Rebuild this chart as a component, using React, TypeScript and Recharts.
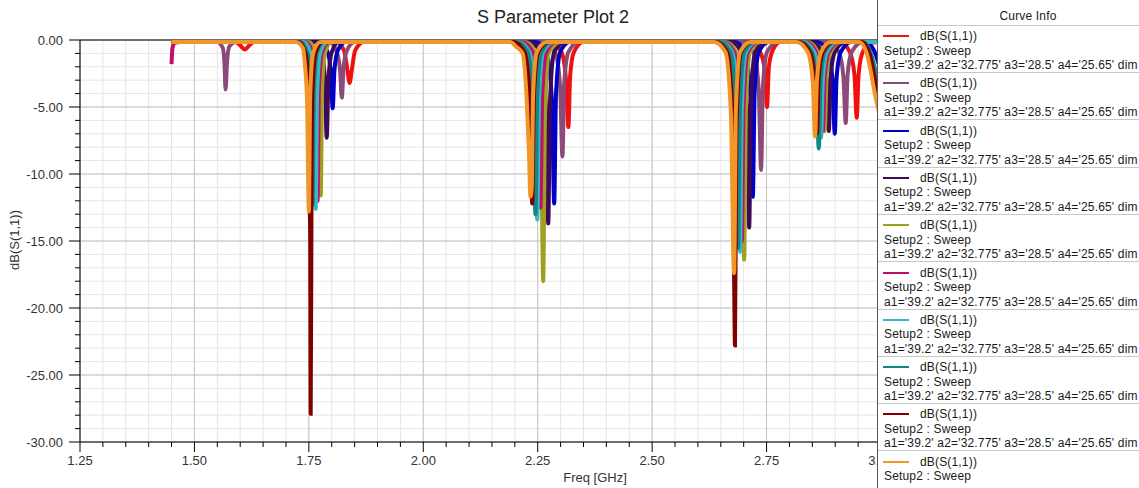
import { CartesianGrid, Line, LineChart, XAxis, YAxis } from 'recharts';

type Pt = [number, number];

const FONT = '"Liberation Sans", Arial, Helvetica, sans-serif';

// frequency axis: minor tick every 50 MHz, labelled every 250 MHz
const freqTicks = [
  1.25, 1.3, 1.35, 1.4, 1.45, 1.5, 1.55, 1.6, 1.65, 1.7, 1.75, 1.8, 1.85, 1.9, 1.95, 2.0, 2.05, 2.1,
  2.15, 2.2, 2.25, 2.3, 2.35, 2.4, 2.45, 2.5, 2.55, 2.6, 2.65, 2.7, 2.75, 2.8, 2.85, 2.9, 2.95, 3.0,
];
const freqLabels = [1.25, 1.5, 1.75, 2.0, 2.25, 2.5, 2.75, 3.0];

// dB axis: minor tick every 1 dB, labelled every 5 dB
const dbTicks = [
  -30, -29, -28, -27, -26, -25, -24, -23, -22, -21, -20, -19, -18, -17, -16, -15, -14, -13, -12,
  -11, -10, -9, -8, -7, -6, -5, -4, -3, -2, -1, 0,
];
const dbLabels = [-30, -25, -20, -15, -10, -5, 0];

const curveColors = [
  '#f01010', '#8c4a78', '#0000c8', '#3c0a5a', '#a0a020',
  '#c0106a', '#38b8c4', '#108888', '#800000', '#f3962a',
];
const curveName = 'dB(S(1,1))';
const setupText = 'Setup2 : Sweep';
const sweepText = "a1='39.2' a2='32.775' a3='28.5' a4='25.65' dim";

// [freq GHz, dB] for each sweep variation
const s11Red: Pt[] = [
  [1.45, -0.15], [1.59, -0.15], [1.6, -0.4], [1.61, -0.7], [1.62, -0.4], [1.63, -0.15],
  [1.81, -0.15], [1.827, -0.8], [1.834, -2.2], [1.839, -3.2], [1.844, -2.2], [1.851, -0.8], [1.87, -0.15],
  [2.28, -0.15], [2.302, -0.9], [2.312, -3.0], [2.317, -6.5], [2.321, -2.6], [2.329, -0.9], [2.35, -0.15],
  [2.715, -0.15], [2.736, -0.9], [2.746, -2.2], [2.751, -5.0], [2.755, -2.0], [2.763, -0.8], [2.78, -0.15],
  [2.91, -0.15], [2.932, -0.9], [2.942, -2.6], [2.947, -5.8], [2.951, -2.6], [2.96, -0.9], [2.98, -0.2], [3.0, -0.15],
];
const s11Mauve: Pt[] = [
  [1.45, -0.15], [1.55, -0.15], [1.562, -0.6], [1.566, -2.0], [1.568, -3.7], [1.571, -1.8], [1.576, -0.5], [1.59, -0.15],
  [1.795, -0.15], [1.811, -0.9], [1.818, -2.2], [1.822, -4.3], [1.826, -2.0], [1.833, -0.8], [1.85, -0.15],
  [2.265, -0.15], [2.288, -0.9], [2.299, -3.5], [2.304, -8.7], [2.308, -3.2], [2.317, -0.9], [2.34, -0.15],
  [2.7, -0.15], [2.722, -0.9], [2.733, -3.8], [2.738, -9.7], [2.742, -3.5], [2.751, -0.9], [2.775, -0.15],
  [2.885, -0.15], [2.908, -0.9], [2.918, -2.8], [2.923, -6.2], [2.927, -2.6], [2.936, -0.9], [2.96, -0.15], [3.0, -0.15],
];
const s11Blue: Pt[] = [
  [1.45, -0.15],
  [1.775, -0.15], [1.791, -0.9], [1.798, -2.4], [1.802, -5.1], [1.806, -2.2], [1.813, -0.8], [1.83, -0.15],
  [2.245, -0.15], [2.269, -0.9], [2.281, -4.5], [2.286, -12.2], [2.29, -4.0], [2.299, -0.9], [2.32, -0.15],
  [2.68, -0.15], [2.703, -0.9], [2.715, -4.3], [2.72, -11.7], [2.724, -3.8], [2.733, -0.9], [2.755, -0.15],
  [2.86, -0.15], [2.884, -0.9], [2.894, -3.0], [2.899, -7.0], [2.903, -2.8], [2.912, -0.9], [2.935, -0.15],
  [2.965, -0.15], [2.985, -0.8], [3.0, -2.4],
];
const s11Purple: Pt[] = [
  [1.45, -0.15],
  [1.762, -0.15], [1.778, -0.9], [1.785, -3.0], [1.789, -7.3], [1.793, -2.8], [1.8, -0.9], [1.815, -0.15],
  [2.232, -0.15], [2.256, -0.9], [2.268, -5.0], [2.273, -13.7], [2.277, -4.5], [2.286, -0.9], [2.31, -0.15],
  [2.672, -0.15], [2.695, -0.9], [2.707, -5.0], [2.712, -14.0], [2.716, -4.5], [2.725, -0.9], [2.748, -0.15],
  [2.848, -0.15], [2.871, -0.9], [2.881, -3.0], [2.886, -6.8], [2.89, -2.8], [2.899, -0.9], [2.922, -0.15], [3.0, -0.15],
];
const s11Olive: Pt[] = [
  [1.45, -0.15],
  [1.75, -0.15], [1.765, -1.0], [1.772, -4.0], [1.776, -11.6], [1.779, -3.6], [1.786, -0.9], [1.8, -0.15],
  [2.222, -0.15], [2.245, -0.9], [2.257, -6.0], [2.26, -14.5], [2.262, -18.0], [2.266, -5.5], [2.275, -0.9], [2.3, -0.15],
  [2.66, -0.15], [2.684, -0.9], [2.696, -5.5], [2.701, -16.4], [2.705, -5.0], [2.714, -0.9], [2.737, -0.15],
  [2.84, -0.15], [2.862, -0.9], [2.872, -3.0], [2.877, -6.8], [2.881, -2.8], [2.89, -0.9], [2.913, -0.15], [3.0, -0.15],
];
const s11Magenta: Pt[] = [
  [1.45, -1.8], [1.452, -0.6], [1.457, -0.2], [1.47, -0.15],
  [1.743, -0.15], [1.758, -1.0], [1.765, -4.2], [1.769, -12.0], [1.772, -3.8], [1.779, -0.9], [1.795, -0.15],
  [2.215, -0.15], [2.239, -0.9], [2.251, -4.5], [2.256, -12.5], [2.26, -4.0], [2.269, -0.9], [2.29, -0.15],
  [2.655, -0.15], [2.679, -0.9], [2.691, -5.2], [2.696, -15.0], [2.7, -4.7], [2.709, -0.9], [2.732, -0.15],
  [2.835, -0.15], [2.858, -0.9], [2.868, -3.0], [2.873, -6.8], [2.877, -2.8], [2.886, -0.9], [2.91, -0.15], [3.0, -0.15],
];
const s11Cyan: Pt[] = [
  [1.45, -0.15],
  [1.739, -0.15], [1.754, -1.0], [1.761, -4.3], [1.765, -12.6], [1.768, -4.0], [1.775, -0.9], [1.79, -0.15],
  [2.208, -0.15], [2.232, -0.9], [2.244, -4.8], [2.249, -13.4], [2.253, -4.3], [2.262, -0.9], [2.285, -0.15],
  [2.651, -0.15], [2.675, -0.9], [2.687, -5.5], [2.692, -15.8], [2.696, -5.0], [2.705, -0.9], [2.728, -0.15],
  [2.83, -0.15], [2.854, -0.9], [2.864, -3.2], [2.869, -7.3], [2.873, -3.0], [2.882, -0.9], [2.905, -0.15], [3.0, -0.15],
];
const s11Teal: Pt[] = [
  [1.45, -0.15],
  [1.732, -0.15], [1.747, -1.0], [1.754, -4.2], [1.758, -12.3], [1.761, -3.9], [1.768, -0.9], [1.783, -0.15],
  [2.204, -0.15], [2.228, -0.9], [2.24, -4.6], [2.245, -13.0], [2.249, -4.2], [2.258, -0.9], [2.28, -0.15],
  [2.647, -0.15], [2.671, -0.9], [2.683, -5.4], [2.688, -15.5], [2.692, -4.9], [2.701, -0.9], [2.724, -0.15],
  [2.825, -0.15], [2.849, -0.9], [2.859, -3.4], [2.864, -8.1], [2.868, -3.2], [2.877, -0.9], [2.9, -0.15],
  [2.96, -0.15], [2.978, -1.0], [2.99, -2.6], [3.0, -4.0],
];
const s11Maroon: Pt[] = [
  [1.45, -0.15],
  [1.728, -0.15], [1.743, -1.0], [1.75, -4.5], [1.752, -12.5], [1.753, -15.0], [1.754, -27.9], [1.756, -10.0],
  [1.758, -3.8], [1.765, -0.9], [1.78, -0.15],
  [2.197, -0.15], [2.221, -0.9], [2.233, -4.4], [2.238, -12.2], [2.242, -4.0], [2.251, -0.9], [2.275, -0.15],
  [2.64, -0.15], [2.664, -0.9], [2.676, -6.0], [2.679, -17.5], [2.681, -22.8], [2.684, -7.0], [2.694, -0.9], [2.717, -0.15],
  [2.821, -0.15], [2.845, -0.9], [2.855, -3.0], [2.86, -7.0], [2.864, -2.8], [2.873, -0.9], [2.895, -0.15],
  [2.958, -0.15], [2.975, -1.0], [2.987, -3.0], [3.0, -5.0],
];
const s11Orange: Pt[] = [
  [1.45, -0.15],
  [1.722, -0.15], [1.737, -0.6], [1.741, -1.7], [1.746, -4.5], [1.75, -12.8], [1.753, -4.0], [1.76, -0.9], [1.775, -0.15],
  [2.19, -0.15], [2.203, -0.5], [2.217, -1.0], [2.226, -4.5], [2.231, -8.5], [2.234, -11.7], [2.237, -11.0],
  [2.24, -4.0], [2.248, -0.9], [2.27, -0.15],
  [2.635, -0.15], [2.66, -0.9], [2.672, -5.5], [2.679, -17.4], [2.683, -5.2], [2.692, -0.9], [2.715, -0.15],
  [2.815, -0.15], [2.84, -0.9], [2.851, -3.2], [2.856, -7.2], [2.86, -3.0], [2.869, -0.9], [2.89, -0.15],
  [2.952, -0.15], [2.968, -0.9], [2.978, -2.4], [2.986, -3.9], [3.0, -6.0],
];

const curves = [
  s11Red, s11Mauve, s11Blue, s11Purple, s11Olive,
  s11Magenta, s11Cyan, s11Teal, s11Maroon, s11Orange,
].map((pts) => pts.map(([f, db]) => ({ f, db })));

function FreqTick({ x, y, payload }: any) {
  const major = freqLabels.includes(payload.value);
  return (
    <g>
      <line x1={x} x2={x} y1={y} y2={y + (major ? 10 : 5)} stroke="#000" />
      {major && (
        <text x={x} y={y + 23} textAnchor="middle" fontSize={13} fill="#333" fontFamily={FONT}>
          {payload.value.toFixed(2)}
        </text>
      )}
    </g>
  );
}

function DbTick({ x, y, payload }: any) {
  const major = dbLabels.includes(payload.value);
  return (
    <g>
      <line x1={x - (major ? 11 : 5)} x2={x} y1={y} y2={y} stroke="#000" />
      {major && (
        <text x={x - 17} y={y + 5} textAnchor="end" fontSize={13} fill="#333" fontFamily={FONT}>
          {payload.value.toFixed(2)}
        </text>
      )}
    </g>
  );
}

const PANEL_H = 488;

function CurveInfo() {
  return (
    <div
      style={{
        position: 'absolute',
        left: 877,
        top: 0,
        width: 262,
        height: PANEL_H,
        background: '#fff',
        borderLeft: '1px solid #555',
        overflow: 'hidden',
        fontFamily: FONT,
        fontSize: 12,
        letterSpacing: 0.17,
        color: '#1a1a1a',
        whiteSpace: 'nowrap',
      }}
    >
      {/* the panel is wider than the window, so its title sits right of the visible centre */}
      <div style={{ position: 'absolute', top: 9, left: 0, width: 300, textAlign: 'center', lineHeight: '14px' }}>
        Curve Info
      </div>
      <div style={{ position: 'absolute', top: 25, left: 0, right: 0, borderTop: '1px solid #c8c8c8' }} />
      {curveColors.map((c, i) => {
        const cy = 36 + i * 47.3;
        // the last entry runs past the bottom of the panel; only whole rows are drawn
        const rows = [curveName, setupText, sweepText].filter((_, r) => cy + r * 14.5 + 7 <= PANEL_H);
        return (
          <div key={i}>
            <div style={{ position: 'absolute', left: 5, top: cy - 1, width: 26, height: 2, background: c }} />
            {rows.map((t, r) => (
              <div
                key={r}
                style={{ position: 'absolute', left: r === 0 ? 42 : 6, top: cy - 7 + r * 14.5, lineHeight: '14px' }}
              >
                {t}
              </div>
            ))}
            <div
              style={{ position: 'absolute', left: 0, right: 0, top: cy + 36, borderTop: '1px solid #c8c8c8' }}
            />
          </div>
        );
      })}
    </div>
  );
}

export default function App() {
  return (
    <div
      style={{
        position: 'absolute',
        left: 0,
        top: 0,
        width: 1139,
        height: 488,
        background: '#fff',
        fontFamily: FONT,
        overflow: 'hidden',
      }}
    >
      <div
        style={{
          position: 'absolute',
          left: 0,
          width: 1106,
          top: 6,
          textAlign: 'center',
          fontSize: 18,
          color: '#222',
          lineHeight: '22px',
        }}
      >
        S Parameter Plot 2
      </div>
      <div
        style={{
          position: 'absolute',
          left: 14,
          top: 240,
          transform: 'translate(-50%, -50%) rotate(-90deg)',
          fontSize: 13,
          color: '#333',
          whiteSpace: 'nowrap',
        }}
      >
        dB(S(1,1))
      </div>
      <div
        style={{
          position: 'absolute',
          left: 595,
          top: 477,
          transform: 'translate(-50%, -50%)',
          fontSize: 13,
          color: '#333',
          whiteSpace: 'nowrap',
        }}
      >
        Freq [GHz]
      </div>
      <div style={{ position: 'absolute', left: 0, top: 0 }}>
        <LineChart width={900} height={488} margin={{ top: 40, right: 19, bottom: 16, left: 0 }}>
          <CartesianGrid stroke="#e6e6e6" />
          <CartesianGrid stroke="#c4c4c4" horizontalValues={dbLabels} verticalValues={freqLabels} />
          <CartesianGrid stroke="#000" horizontalValues={[0]} vertical={false} />
          <XAxis
            dataKey="f"
            type="number"
            domain={[1.25, 3.0]}
            ticks={freqTicks}
            interval={0}
            allowDataOverflow
            height={30}
            tickSize={0}
            tickMargin={0}
            tickLine={false}
            axisLine={{ stroke: '#000' }}
            tick={<FreqTick />}
          />
          <YAxis
            type="number"
            domain={[-30, 0]}
            ticks={dbTicks}
            interval={0}
            allowDataOverflow
            width={80}
            tickSize={0}
            tickMargin={0}
            tickLine={false}
            axisLine={{ stroke: '#000' }}
            tick={<DbTick />}
          />
          {curves.map((data, i) => (
            <Line
              key={i}
              data={data}
              dataKey="db"
              type="monotone"
              stroke={curveColors[i]}
              strokeWidth={4}
              dot={false}
              activeDot={false}
              isAnimationActive={false}
            />
          ))}
        </LineChart>
      </div>
      <CurveInfo />
    </div>
  );
}
